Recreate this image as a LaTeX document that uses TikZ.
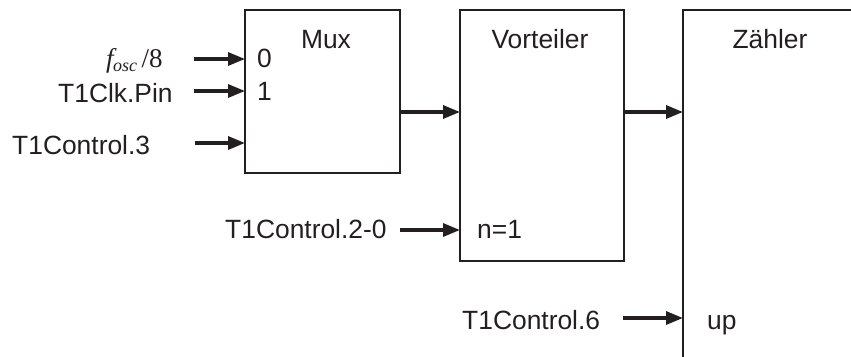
\documentclass[tikz,border=0pt]{standalone}
\usepackage{fontspec}
\setmainfont{Liberation Sans}
\newfontfamily\seriffont{Liberation Serif}
\usetikzlibrary{arrows.meta}
\definecolor{ink}{RGB}{35,31,32}
\begin{document}
\begin{tikzpicture}[x=1pt,y=-1pt,
  box/.style={draw=ink, line width=2.2pt, rectangle, inner sep=0pt, outer sep=0pt, anchor=north west},
  lbl/.style={inner sep=0pt, text=ink, font=\fontsize{26.4}{30}\selectfont},
  arr/.style={draw=ink, line width=3.2pt, -{Triangle[length=17pt,width=13pt]}},
]
\useasboundingbox (0,0) rectangle (851,356);
\clip (0,0) rectangle (851,356);
% boxes
\node[box, minimum width=155pt, minimum height=163pt] (mux) at (245,10) {};
\node[box, minimum width=164pt, minimum height=251pt] (vort) at (460,10) {};
\node[box, minimum width=174pt, minimum height=400pt] (zaehl) at (683,10) {};
% titles
\node[lbl, anchor=base] (tmux) at (326,48) {Mux};
\node[lbl, anchor=base] (tvort) at (540,48) {Vorteiler};
\node[lbl, anchor=base] (tzaehl) at (770,48) {Zähler};
% port labels
\node[lbl, anchor=base west] (p0) at (257,67) {0};
\node[lbl, anchor=base west] (p1) at (257,100) {1};
\node[lbl, anchor=base west] (pn) at (477,238) {n=1};
\node[lbl, anchor=base west] (pup) at (707,329) {up};
% input labels
\node[lbl, anchor=base west] (fosc) at (106,67) {\fontsize{27}{30}\selectfont\seriffont\itshape f\kern-0.5pt\raisebox{-4.5pt}{\fontsize{18}{18}\selectfont osc}\kern4.5pt\upshape/8};
\node[lbl, anchor=base west] (clk) at (58,102) {T1Clk.Pin};
\node[lbl, anchor=base west] (c3) at (12,154) {T1Control.3};
\node[lbl, anchor=base west] (c20) at (225,238) {T1Control.2-0};
\node[lbl, anchor=base west] (c6) at (462,329) {T1Control.6};
% arrow start points
\coordinate (s0) at (194,59);
\coordinate (s1) at (194,91);
\coordinate (s3) at (195,143);
\coordinate (s20) at (400,230);
\coordinate (s6) at (623,318);
% input arrows
\draw[arr] (s0) -- (mux.west |- s0);
\draw[arr] (s1) -- (mux.west |- s1);
\draw[arr] (s3) -- (mux.west |- s3);
\draw[arr] (s20) -- (vort.west |- s20);
\draw[arr] (s6) -- (zaehl.west |- s6);
% chain arrows
\draw[arr] (mux.east |- 0,112) -- (vort.west |- 0,112);
\draw[arr] (vort.east |- 0,112) -- (zaehl.west |- 0,112);
\end{tikzpicture}
\end{document}
